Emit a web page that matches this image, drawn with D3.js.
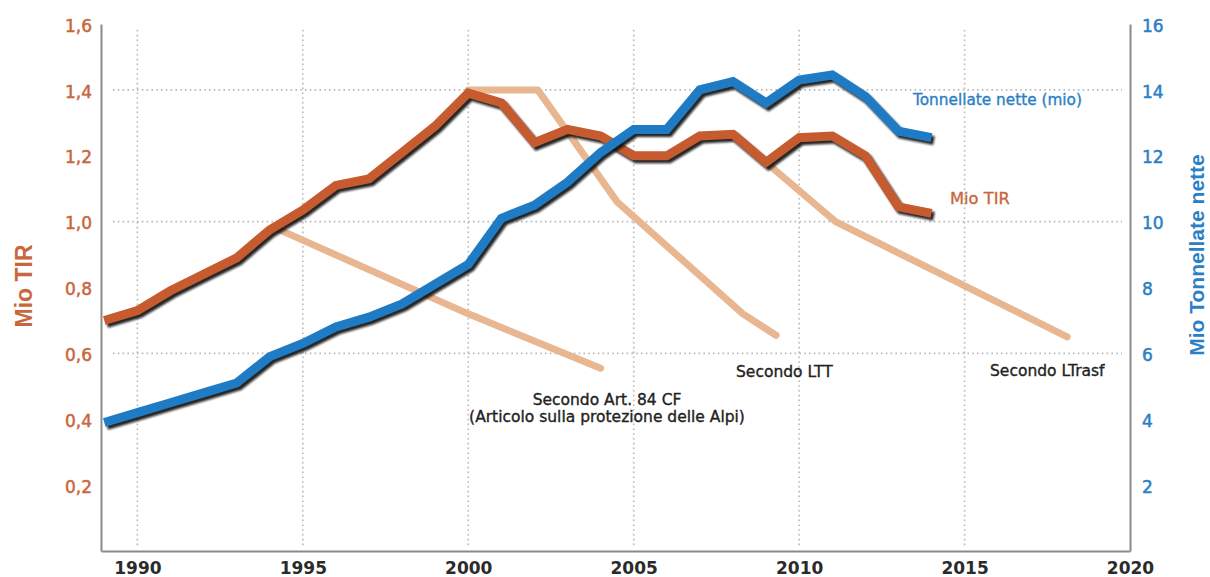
<!DOCTYPE html>
<html><head><meta charset="utf-8">
<script src="https://cdn.jsdelivr.net/npm/d3@7"></script>
<style>
html,body{margin:0;padding:0;background:#fff;}
svg{display:block;}
</style></head>
<body>
<svg id="c" width="1210" height="577"></svg>
<script>
// ---- data ----
const years = [1989,1990,1991,1992,1993,1994,1995,1996,1997,1998,1999,2000,2001,2002,2003,2004,2005,2006,2007,2008,2009,2010,2011,2012,2013,2014];
const mioTIR = [0.70,0.73,0.79,0.84,0.89,0.975,1.035,1.11,1.13,1.21,1.29,1.39,1.36,1.24,1.28,1.26,1.20,1.20,1.26,1.265,1.18,1.255,1.26,1.20,1.045,1.025];
const tonnellate = [3.9,4.2,4.5,4.8,5.1,5.9,6.3,6.8,7.1,7.5,8.1,8.7,10.1,10.5,11.2,12.1,12.8,12.8,14.0,14.25,13.6,14.3,14.45,13.8,12.75,12.55];
const art84Years = [1994.3,2000,2004];
const art84Values = [0.975,0.72,0.555];
const lttYears = [2000,2002.1,2004.5,2008.3,2009.3];
const lttValues = [1.40,1.40,1.06,0.72,0.655];
const ltrasfYears = [2009,2011.1,2018.1];
const ltrasfValues = [1.18,1.0,0.65];
const leftTicks = [0.2,0.4,0.6,0.8,1.0,1.2,1.4,1.6];
const rightTicks = [2,4,6,8,10,12,14,16];
const yearTicks = [1990,1995,2000,2005,2010,2015,2020];
const gridYears = [1990,1995,2000,2005,2010,2015];
const gridValues = [0.6,1.0,1.4];

// ---- scales ----
const svg = d3.select('#c');
const x = d3.scaleLinear().domain([1988.9,2020]).range([101,1130]);
const yL = d3.scaleLinear().domain([0,1.6]).range([551,24]);
const yR = d3.scaleLinear().domain([0,16]).range([551,24]);

const cOrange = '#c55b2f', cBlue = '#1f7cc4', cLight = '#e8b690';
const defs = svg.append('defs');
defs.append('filter').attr('id','blur').attr('x','-5%').attr('y','-5%').attr('width','110%').attr('height','110%')
  .append('feGaussianBlur').attr('stdDeviation',1.3);

// ---- grid ----
const grid = svg.append('g').attr('stroke','#b8b8b8').attr('stroke-width',1.6).attr('stroke-dasharray','1.6,3.2');
grid.selectAll('line.v').data(gridYears).join('line').attr('class','v')
  .attr('x1',d=>x(d)).attr('x2',d=>x(d)).attr('y1',30).attr('y2',548);
grid.selectAll('line.h').data(gridValues).join('line').attr('class','h')
  .attr('x1',113).attr('x2',1122).attr('y1',d=>yL(d)).attr('y2',d=>yL(d));

// ---- axes ----
const fontTick = '"DejaVu Sans", sans-serif';
const axL = svg.append('g').attr('transform','translate(101,0)')
  .call(d3.axisLeft(yL).tickValues(leftTicks).tickSize(0).tickPadding(9).tickFormat(d=>d3.format('.1f')(d).replace('.',',')));
axL.select('.domain').attr('stroke','#8a8a8a').attr('stroke-width',2);
axL.selectAll('text').attr('fill','#c8673d').attr('stroke','#c8673d').attr('stroke-width',0.5)
  .style('font-family',fontTick).style('font-size','17px').attr('dy','0.42em');

const axR = svg.append('g').attr('transform','translate(1130,0)')
  .call(d3.axisRight(yR).tickValues(rightTicks).tickSize(0).tickPadding(12).tickFormat(d3.format('d')));
axR.select('.domain').attr('stroke','#8a8a8a').attr('stroke-width',2);
axR.selectAll('text').attr('fill','#2a80c5').attr('stroke','#2a80c5').attr('stroke-width',0.5)
  .style('font-family',fontTick).style('font-size','17px').attr('dy','0.42em');

const axB = svg.append('g').attr('transform','translate(0,551)')
  .call(d3.axisBottom(x).tickValues(yearTicks).tickSize(0).tickPadding(11).tickFormat(d3.format('d')));
axB.select('.domain').attr('stroke','#8a8a8a').attr('stroke-width',2);
axB.selectAll('text').attr('fill','#2b2b2b').style('font-family',fontTick).style('font-size','17px').style('font-weight','bold');

// ---- projection lines ----
const lineL = d3.line().x(d=>x(d[0])).y(d=>yL(d[1]));
const lineR = d3.line().x(d=>x(d[0])).y(d=>yR(d[1]));
const proj = [d3.zip(art84Years,art84Values), d3.zip(lttYears,lttValues), d3.zip(ltrasfYears,ltrasfValues)];
svg.append('g').selectAll('path').data(proj).join('path')
  .attr('d',lineL).attr('fill','none').attr('stroke',cLight).attr('stroke-width',7)
  .attr('stroke-linecap','round').attr('stroke-linejoin','round');

// ---- main series with shadow ----
function drawSeries(data, gen, color){
  const g = svg.append('g');
  g.append('path').datum(data).attr('d',gen).attr('fill','none').attr('stroke','#111')
    .attr('stroke-width',9).attr('stroke-linejoin','miter').attr('opacity',0.9)
    .attr('transform','translate(2.5,3)').attr('filter','url(#blur)');
  g.append('path').datum(data).attr('d',gen).attr('fill','none').attr('stroke',color)
    .attr('stroke-width',9).attr('stroke-linejoin','miter');
}
drawSeries(d3.zip(years,mioTIR), lineL, cOrange);
drawSeries(d3.zip(years,tonnellate), lineR, cBlue);

// ---- labels ----
const fontLbl = '"DejaVu Sans", sans-serif';
function label(t, xx, yy, color, size, anchor){
  svg.append('text').attr('x',xx).attr('y',yy).attr('fill',color).attr('stroke',color).attr('stroke-width',0.35)
    .attr('text-anchor',anchor||'start')
    .style('font-family',fontLbl).style('font-size',size+'px').text(t);
}
label('Tonnellate nette (mio)', 913, 105, '#2a80c5', 15.3);
label('Mio TIR', 950, 204, '#c8673d', 16.3);
label('Secondo LTrasf', 990, 376, '#222', 15.5);
label('Secondo LTT', 736, 377, '#222', 15.5);
label('Secondo Art. 84 CF', 607, 405, '#222', 15.5, 'middle');
label('(Articolo sulla protezione delle Alpi)', 607, 422, '#222', 15.5, 'middle');

// ---- axis titles ----
svg.append('text').attr('transform','translate(32,286) rotate(-90)').attr('text-anchor','middle')
  .attr('fill','#c8673d').style('font-family','"Liberation Sans", Arial, sans-serif').style('font-weight','bold').style('font-size','23px')
  .text('Mio TIR');
svg.append('text').attr('transform','translate(1204,255) rotate(-90)').attr('text-anchor','middle')
  .attr('fill','#2a80c5').style('font-family','"Liberation Sans", Arial, sans-serif').style('font-weight','bold').style('font-size','21px')
  .text('Mio Tonnellate nette');
</script>
</body></html>
